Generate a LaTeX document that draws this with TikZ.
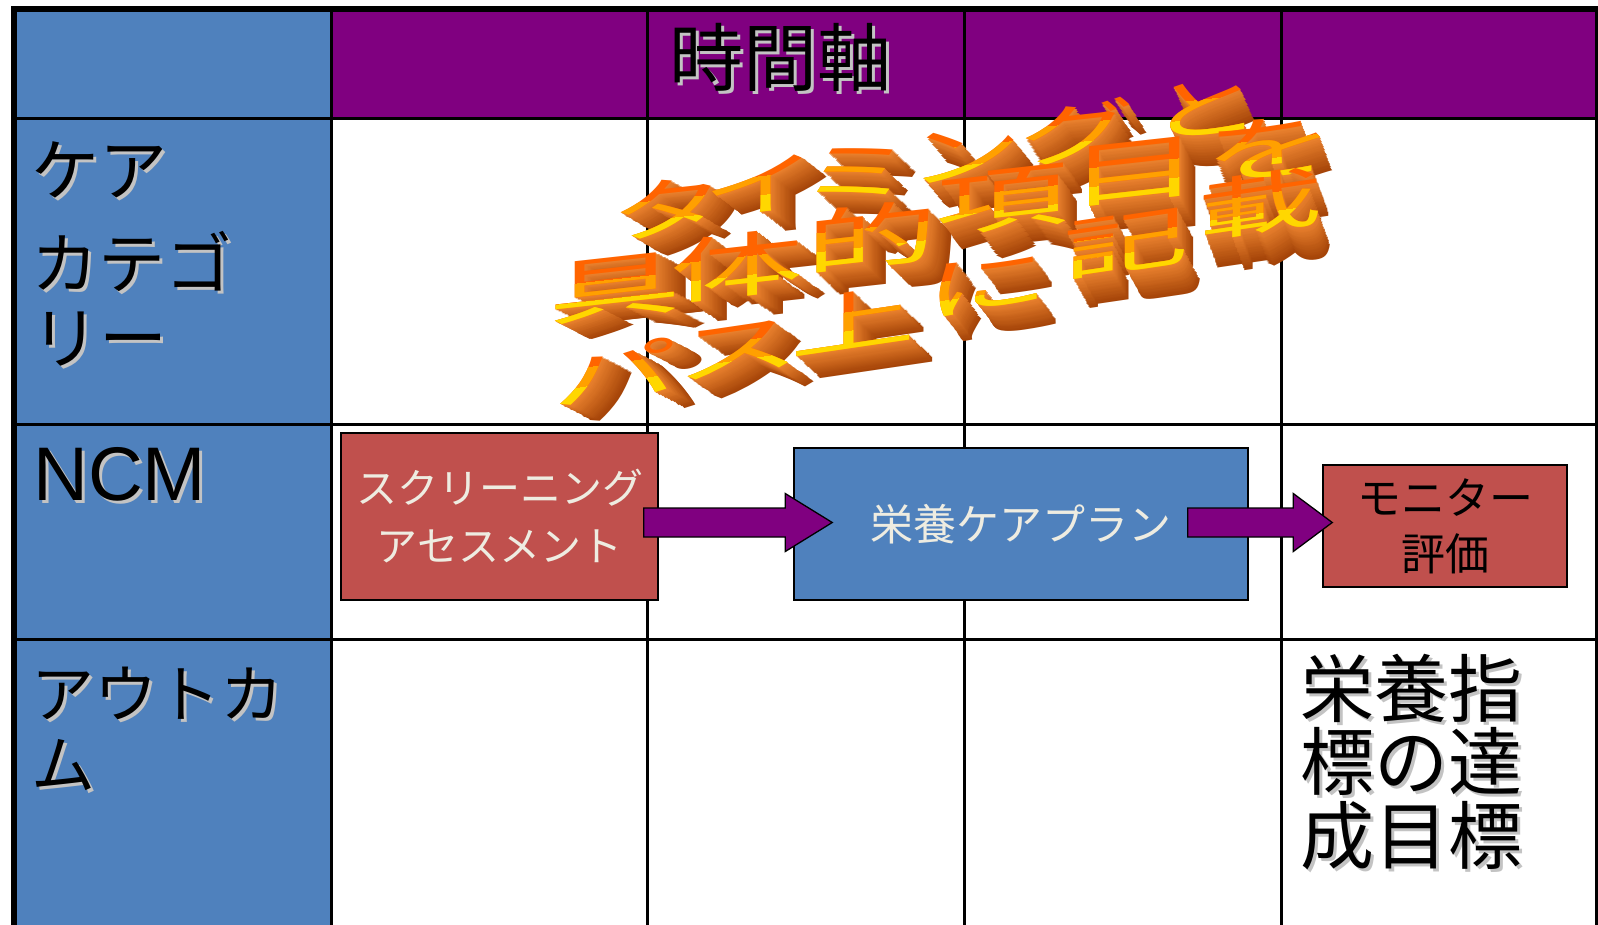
\documentclass[tikz,border=0pt]{standalone}
\usepackage{fontspec}
\newfontfamily\jpf{Noto Sans CJK JP}
\newfontfamily\latf{Liberation Sans}
\usetikzlibrary{calc}
\definecolor{cblue}{HTML}{4F81BD}
\definecolor{cpurple}{HTML}{800080}
\definecolor{cred}{HTML}{C0504D}
\definecolor{ccream}{HTML}{EEECE1}
\definecolor{cshadow}{RGB}{195,195,195}
\definecolor{wafar}{RGB}{165,68,8}
\definecolor{wanear}{RGB}{232,128,45}
\definecolor{waA}{RGB}{255,100,0}
\definecolor{waB}{RGB}{255,160,0}
\definecolor{waC}{RGB}{255,215,0}
\newcommand\fsz[2]{\fontsize{#1pt}{#2pt}\selectfont}
% text with a light grey drop shadow
\newcommand\shtext[5]{%
  \node[lbl, anchor=#4, text=cshadow] (#1s) at ($(#2,#3)+(3,3)$) {#5};
  \node[lbl, anchor=#4] (#1) at (#2,#3) {#5};}
% extruded side of a word-art character
\newcommand\waext[5]{%
  \pgfmathsetmacro\wat{(#2-600)/670}%
  \pgfmathsetmacro\wdx{30-18*\wat}%
  \pgfmathsetmacro\wdy{15+18*\wat}%
  \foreach \k in {20,19,...,1}{%
    \pgfmathtruncatemacro\wp{100*(20-\k)/19}%
    \node[#5f, #5g, text=wanear!\wp!wafar] (#1-e\k) at ($(#2,#3)+({\k*\wdx/20},{\k*\wdy/20})$) {#4};
  }%
}
% front face of a word-art character (three colour bands)
\newcommand\waface[5]{%
  \node[#5f, #5g, text=waA] (#1) at (#2,#3) {#4};
  \begin{scope}[shift={(#2,#3)}, #5g]
    \clip (-200,-9) rectangle (200,200);
    \node[#5f, transform shape, text=waB] (#1-b) at (0,0) {#4};
  \end{scope}
  \begin{scope}[shift={(#2,#3)}, #5g]
    \clip (-200,10) rectangle (200,200);
    \node[#5f, transform shape, text=waC] (#1-c) at (0,0) {#4};
  \end{scope}
}
\begin{document}
\begin{tikzpicture}[x=1pt, y=-1pt,
  grid/.style={draw=black, line width=3pt},
  outer/.style={draw=black, line width=6pt},
  lbl/.style={inner sep=0pt, text=black},
  box/.style={draw=black, line width=1.5pt, inner sep=0pt, align=center},
  barrow/.style={fill=cpurple, draw=black, line width=1.3pt, line join=miter},
  wa1f/.style={font=\jpf\fsz{66}{66}, inner sep=0pt},
  wa1g/.style={xscale=1.75, yslant=0.19},
  wa2f/.style={font=\jpf\fsz{70}{70}, inner sep=0pt},
  wa2g/.style={xscale=1.9, yslant=0.21},
  wa3f/.style={font=\jpf\fsz{66}{66}, inner sep=0pt},
  wa3g/.style={xscale=1.9, yslant=0.28}]
\useasboundingbox (0,0) rectangle (1598,924);

% ---------- table ----------
\fill[cblue] (14,9) rectangle (331,930);
\fill[cpurple] (331,9) rectangle (1602,118);
\foreach \cx in {331,647,964,1281} \draw[grid] (\cx,9) -- (\cx,930);
\foreach \ry in {118,424,639} \draw[grid] (14,\ry) -- (1602,\ry);
\draw[outer] (14,6) -- (14,930);
\draw[outer] (11,9) -- (1602,9);
\draw[outer] (1598,6) -- (1598,930);

% ---------- headings ----------
\shtext{hdr}{780}{85}{base}{\jpf\fsz{74}{74}時間軸}
\shtext{catA}{31}{195}{base west}{\jpf\fsz{68}{68}ケア}
\shtext{catB}{31}{288}{base west}{\jpf\fsz{67}{67}カテゴ}
\shtext{catC}{31}{363}{base west}{\jpf\fsz{68}{68}リー}
\shtext{ncm}{33}{500}{base west}{\latf\fsz{76}{76}NCM}
\shtext{outA}{31}{717}{base west}{\jpf\fsz{63}{63}アウトカ}
\shtext{outB}{31}{788}{base west}{\jpf\fsz{64}{64}ム}
\shtext{goalA}{1411}{716}{base}{\jpf\fsz{74}{74}栄養指}
\shtext{goalB}{1411}{789}{base}{\jpf\fsz{74}{74}標の達}
\shtext{goalC}{1411}{863}{base}{\jpf\fsz{74}{74}成目標}

% ---------- process boxes ----------
\node[box, fill=cred, minimum width=317pt, minimum height=167pt, text=ccream,
      font=\jpf\fsz{41}{58}] (sa) at (499.5,516.5) {スクリーニング\\アセスメント};
\node[box, fill=cblue, minimum width=454pt, minimum height=152pt, text=ccream,
      font=\jpf\fsz{43}{43}] (plan) at (1021,524) {栄養ケアプラン};
\node[box, fill=cred, minimum width=244pt, minimum height=122pt, text=black,
      font=\jpf\fsz{44}{56}] (mon) at (1445,526) {モニター\\評価};

% ---------- block arrows ----------
\coordinate (a1s) at ($(sa.east)+(-15,6)$);
\coordinate (a1t) at ($(plan.west)+(39,-1.5)$);
\coordinate (a2s) at ($(plan.east)+(-61,-1.5)$);
\coordinate (a2t) at ($(mon.west)+(10,-3.5)$);
\draw[barrow] ($(a1s)+(0,-14.5)$) -- ($(a1t)+(-47,-14.5)$) -- ($(a1t)+(-47,-29)$)
  -- (a1t) -- ($(a1t)+(-47,29)$) -- ($(a1t)+(-47,14.5)$) -- ($(a1s)+(0,14.5)$) -- cycle;
\draw[barrow] ($(a2s)+(0,-14.5)$) -- ($(a2t)+(-39,-14.5)$) -- ($(a2t)+(-39,-29)$)
  -- (a2t) -- ($(a2t)+(-39,29)$) -- ($(a2t)+(-39,14.5)$) -- ($(a2s)+(0,14.5)$) -- cycle;

% ---------- word art ----------
% line 1
\waext{wta}{668}{208}{タ}{wa1}
\waext{wti}{760}{185}{イ}{wa1}
\waext{wtm}{857}{172}{ミ}{wa1}
\waext{wtn}{965}{155}{ン}{wa1}
\waext{wtg}{1077}{132}{グ}{wa1}
\waext{wtt}{1205}{108}{と}{wa1}
\waface{wta}{668}{208}{タ}{wa1}
\waface{wti}{760}{185}{イ}{wa1}
\waface{wtm}{857}{172}{ミ}{wa1}
\waface{wtn}{965}{155}{ン}{wa1}
\waface{wtg}{1077}{132}{グ}{wa1}
\waface{wtt}{1205}{108}{と}{wa1}
% line 2
\waext{wgu}{615}{288}{具}{wa2}
\waext{wta2}{737}{266}{体}{wa2}
\waext{wte}{872}{236}{的}{wa2}
\waext{wko}{1002}{200}{項}{wa2}
\waext{wmo}{1135}{172}{目}{wa2}
\waext{wwo}{1270}{148}{を}{wa2}
\waface{wgu}{615}{288}{具}{wa2}
\waface{wta2}{737}{266}{体}{wa2}
\waface{wte}{872}{236}{的}{wa2}
\waface{wko}{1002}{200}{項}{wa2}
\waface{wmo}{1135}{172}{目}{wa2}
\waface{wwo}{1270}{148}{を}{wa2}
% line 3
\waext{wpa}{615}{372}{パ}{wa3}
\waext{wsu}{738}{350}{ス}{wa3}
\waext{wue}{853}{320}{上}{wa3}
\waext{wni}{987}{284}{に}{wa3}
\waext{wki}{1126}{243}{記}{wa3}
\waext{wsa}{1260}{203}{載}{wa3}
\waface{wpa}{615}{372}{パ}{wa3}
\waface{wsu}{738}{350}{ス}{wa3}
\waface{wue}{853}{320}{上}{wa3}
\waface{wni}{987}{284}{に}{wa3}
\waface{wki}{1126}{243}{記}{wa3}
\waface{wsa}{1260}{203}{載}{wa3}
\end{tikzpicture}
\end{document}
